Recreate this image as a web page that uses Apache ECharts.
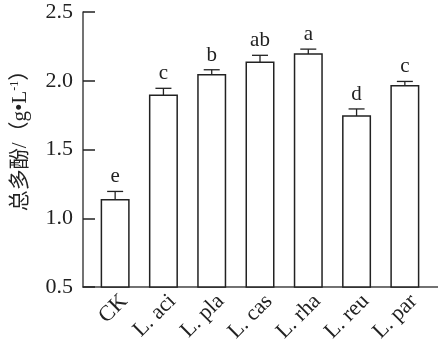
<!DOCTYPE html>
<html>
<head>
<meta charset="utf-8">
<script src="https://cdn.jsdelivr.net/npm/echarts@6/dist/echarts.min.js"></script>
<style>
html, body { margin: 0; padding: 0; background: #fff; }
#main { width: 438px; height: 351px; }
</style>
</head>
<body>
<div id="main"></div>
<script>
var categories = ['CK', 'L. aci', 'L. pla', 'L. cas', 'L. rha', 'L. reu', 'L. par'];
var meanValues = [1.14, 1.90, 2.05, 2.14, 2.20, 1.75, 1.97];
var errValues = [0.055, 0.045, 0.03, 0.045, 0.03, 0.045, 0.025];
var letters = ['e', 'c', 'b', 'ab', 'a', 'd', 'c'];
var yTicks = [0.5, 1.0, 1.5, 2.0, 2.5];

var myChart = echarts.init(document.getElementById('main'));
var serif = "'Liberation Serif', 'Times New Roman', serif";
var ink = '#222';

var option = {
	animation: false,
	grid: [
		{ left: 91, width: 338, top: 12, bottom: 64 },
		{ left: 83, right: 0, top: 12, bottom: 64 },
		// labels sit a little right of the ticks in the original
		{ left: 100, width: 338, top: 12, bottom: 64 }
	],
	xAxis: [{
		type: 'category',
		gridIndex: 0,
		data: categories,
		axisLine: { show: false },
		axisTick: { show: true, inside: true, length: 8, alignWithLabel: true, lineStyle: { color: ink, width: 1.5 } },
		axisLabel: { show: false }
	}, {
		type: 'value',
		gridIndex: 1,
		min: 0,
		max: 1,
		axisLine: { show: true, onZero: false, lineStyle: { color: '#444', width: 1.5 } },
		axisTick: { show: false },
		axisLabel: { show: false },
		splitLine: { show: false }
	}, {
		type: 'category',
		gridIndex: 2,
		data: categories,
		axisLine: { show: false },
		axisTick: { show: false },
		axisLabel: { rotate: 45, margin: 11, color: ink, fontFamily: serif, fontSize: 22 }
	}],
	yAxis: [{
		type: 'value',
		gridIndex: 0,
		min: 0.5,
		max: 2.5,
		show: false
	}, {
		type: 'value',
		gridIndex: 1,
		min: yTicks[0],
		max: yTicks[yTicks.length - 1],
		interval: 0.5,
		name: '{t|总多酚/（g•L}{s|-1}{t|）}',
		nameLocation: 'middle',
		nameGap: 52,
		nameTextStyle: {
			padding: [0, 0, 0, 28],
			rich: {
				t: { fontFamily: "'Liberation Serif', 'Noto Sans CJK SC', serif", fontSize: 21, color: ink },
				s: { fontFamily: serif, fontSize: 12, color: ink, verticalAlign: 'top', padding: [0, 0, 10, 0] }
			}
		},
		axisLine: { show: true, lineStyle: { color: '#444', width: 1.5 } },
		axisTick: { show: true, inside: true, length: 12, lineStyle: { color: ink, width: 1.5 } },
		axisLabel: {
			margin: 10,
			color: ink,
			fontFamily: serif,
			fontSize: 22,
			formatter: function (v) { return v.toFixed(1); }
		},
		splitLine: { show: false }
	}, {
		type: 'value',
		gridIndex: 2,
		show: false
	}],
	series: [{
		type: 'bar',
		xAxisIndex: 0,
		yAxisIndex: 0,
		barWidth: 29,
		data: meanValues,
		itemStyle: { color: '#fff', borderColor: ink, borderWidth: 1.5 }
	}, {
		type: 'custom',
		xAxisIndex: 0,
		yAxisIndex: 0,
		data: meanValues.map(function (m, i) { return [i, m - errValues[i], m + errValues[i]]; }),
		renderItem: function (params, api) {
			var lo = api.coord([api.value(0), api.value(1)]);
			var hi = api.coord([api.value(0), api.value(2)]);
			var x = lo[0];
			var cap = 8;
			var st = { stroke: ink, lineWidth: 1.3 };
			return {
				type: 'group',
				children: [
					{ type: 'line', shape: { x1: x, y1: lo[1], x2: x, y2: hi[1] }, style: st },
					{ type: 'line', shape: { x1: x - cap, y1: lo[1], x2: x + cap, y2: lo[1] }, style: st },
					{ type: 'line', shape: { x1: x - cap, y1: hi[1], x2: x + cap, y2: hi[1] }, style: st },
					{
						type: 'text',
						style: {
							x: x,
							y: hi[1] - 4,
							text: letters[params.dataIndex],
							textAlign: 'center',
							textVerticalAlign: 'bottom',
							font: '21px ' + serif,
							fill: ink
						}
					}
				]
			};
		}
	}]
};

myChart.setOption(option);
</script>
</body>
</html>
